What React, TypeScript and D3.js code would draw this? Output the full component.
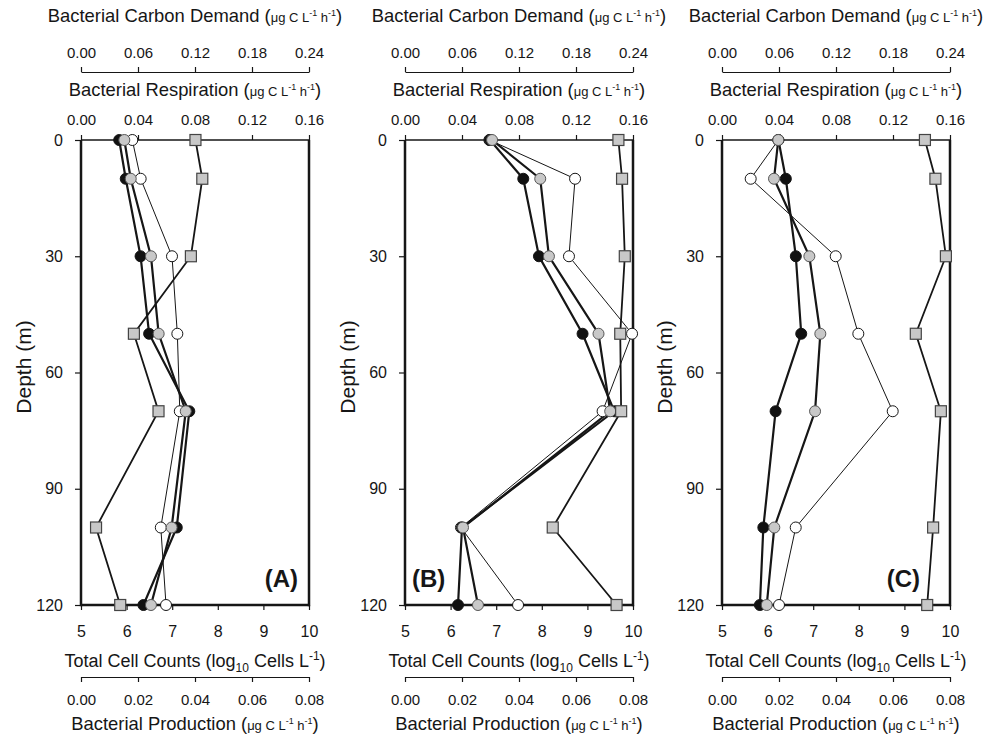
import React, { useEffect, useRef } from "react";
import * as d3 from "d3";

const depths = [0, 10, 30, 50, 70, 100, 120];
const depthTicks = [0, 30, 60, 90, 120];
const cellTicks = [5, 6, 7, 8, 9, 10];
const prodTicks = [0, 0.02, 0.04, 0.06, 0.08];
const respTicks = [0, 0.04, 0.08, 0.12, 0.16];
const bcdTicks = [0, 0.06, 0.12, 0.18, 0.24];

// panel A
const cellsA = [7.51, 7.66, 7.41, 6.16, 6.7, 5.33, 5.86];
const prodA = [0.0134, 0.0157, 0.0209, 0.0239, 0.038, 0.0336, 0.0219];
const respA = [0.0304, 0.0349, 0.0491, 0.0545, 0.0735, 0.0636, 0.0491];
const bcdA = [0.054, 0.0628, 0.0958, 0.1014, 0.104, 0.084, 0.0895];
// panel B
const cellsB = [9.68, 9.76, 9.82, 9.72, 9.74, 8.24, 9.64];
const prodB = [0.0298, 0.0415, 0.047, 0.0623, 0.0734, 0.02, 0.0186];
const respB = [0.0611, 0.0949, 0.101, 0.1358, 0.144, 0.0407, 0.0512];
const bcdB = [0.0888, 0.179, 0.1726, 0.239, 0.208, 0.0589, 0.119];
// panel C
const cellsC = [9.45, 9.68, 9.91, 9.25, 9.8, 9.63, 9.5];
const prodC = [0.0198, 0.0224, 0.0259, 0.0278, 0.0188, 0.0145, 0.0133];
const respC = [0.0395, 0.0365, 0.0613, 0.069, 0.0653, 0.0367, 0.0314];
const bcdC = [0.0593, 0.0302, 0.1197, 0.1435, 0.1797, 0.0776, 0.06];

const panels = [
  { name: "(A)", left: 81, cells: cellsA, prod: prodA, resp: respA, bcd: bcdA, labelX: 217, anchor: "end" },
  { name: "(B)", left: 405, cells: cellsB, prod: prodB, resp: respB, bcd: bcdB, labelX: 7, anchor: "start" },
  { name: "(C)", left: 722, cells: cellsC, prod: prodC, resp: respC, bcd: bcdC, labelX: 198, anchor: "end" },
];

const FONT = "'Liberation Sans', Arial, sans-serif";
const INK = "#161616";

function unitLabel(g: any, x: number, yb: number, name: string) {
  const t = g.append("text").attr("x", x).attr("y", yb).attr("text-anchor", "middle")
    .attr("font-size", 18.4).attr("fill", INK);
  t.append("tspan").text(name + " (");
  t.append("tspan").attr("font-size", 13).text("\u03bcg C L");
  t.append("tspan").attr("font-size", 9).attr("dy", -6).text("-1");
  t.append("tspan").attr("font-size", 13).attr("dy", 6).text(" h");
  t.append("tspan").attr("font-size", 9).attr("dy", -6).text("-1");
  t.append("tspan").attr("dy", 6).text(")");
}

export default function App() {
  const ref = useRef<SVGSVGElement>(null);
  useEffect(() => {
    const svg = d3.select(ref.current);
    svg.selectAll("*").remove();
    const W = 228;
    const top = 140;
    const bottom = 605;
    const y = d3.scaleLinear().domain([0, 120]).range([top, bottom]);

    panels.forEach((p) => {
      const g = svg.append("g").attr("transform", `translate(${p.left},0)`)
        .attr("font-family", FONT);
      const xCells = d3.scaleLinear().domain([5, 10]).range([0, W]);
      const xProd = d3.scaleLinear().domain([0, 0.08]).range([0, W]);
      const xResp = d3.scaleLinear().domain([0, 0.16]).range([0, W]);
      const xBcd = d3.scaleLinear().domain([0, 0.24]).range([0, W]);

      const styleAxis = (a: any, size: number) => {
        a.attr("font-family", FONT).attr("font-size", size).attr("color", INK);
        a.selectAll(".tick line").attr("stroke-width", 1.2);
      };

      // depth axis
      const la = g.append("g")
        .call(d3.axisLeft(y).tickValues(depthTicks).tickSize(6).tickPadding(12).tickFormat(d3.format("d")));
      la.select(".domain").remove();
      styleAxis(la, 16);

      // respiration (top frame)
      const ra = g.append("g").attr("transform", `translate(0,${top})`)
        .call(d3.axisTop(xResp).tickValues(respTicks).tickSize(5).tickPadding(10).tickFormat(d3.format(".2f")));
      ra.select(".domain").remove();
      styleAxis(ra, 15);

      // carbon demand (separate axis)
      const ba = g.append("g").attr("transform", "translate(0,72)")
        .call(d3.axisTop(xBcd).tickValues(bcdTicks).tickSize(5).tickSizeOuter(0).tickPadding(9).tickFormat(d3.format(".2f")));
      styleAxis(ba, 15);

      // cell counts (bottom frame)
      const ca = g.append("g").attr("transform", `translate(0,${bottom})`)
        .call(d3.axisBottom(xCells).tickValues(cellTicks).tickSize(5).tickPadding(15.5).tickFormat(d3.format("d")));
      ca.select(".domain").remove();
      styleAxis(ca, 16);

      // production (separate axis)
      const pa = g.append("g").attr("transform", "translate(0,677)")
        .call(d3.axisBottom(xProd).tickValues(prodTicks).tickSize(5).tickSizeOuter(0).tickPadding(12.3).tickFormat(d3.format(".2f")));
      styleAxis(pa, 15);

      // frame
      g.append("line").attr("x1", 0).attr("x2", W).attr("y1", top).attr("y2", top)
        .attr("stroke", INK).attr("stroke-width", 1.5);
      g.append("line").attr("x1", 0).attr("x2", W).attr("y1", bottom).attr("y2", bottom)
        .attr("stroke", INK).attr("stroke-width", 2.5);
      g.append("line").attr("x1", 0).attr("x2", 0).attr("y1", top).attr("y2", bottom + 1.2)
        .attr("stroke", INK).attr("stroke-width", 2.5);
      g.append("line").attr("x1", W).attr("x2", W).attr("y1", top).attr("y2", bottom + 1.2)
        .attr("stroke", INK).attr("stroke-width", 2.5);

      // titles
      const cx = W / 2;
      unitLabel(g, cx, 22, "Bacterial Carbon Demand");
      unitLabel(g, cx, 96, "Bacterial Respiration");
      unitLabel(g, cx, 730, "Bacterial Production");
      const tc = g.append("text").attr("x", cx).attr("y", 667).attr("text-anchor", "middle")
        .attr("font-size", 18).attr("fill", INK);
      tc.append("tspan").text("Total Cell Counts (log");
      tc.append("tspan").attr("font-size", 12).attr("dy", 5).text("10");
      tc.append("tspan").attr("dy", -5).text(" Cells L");
      tc.append("tspan").attr("font-size", 12).attr("dy", -7).text("-1");
      tc.append("tspan").attr("dy", 7).text(")");

      g.append("text").attr("transform", `translate(-50,367) rotate(-90)`)
        .attr("text-anchor", "middle").attr("font-size", 21).attr("fill", INK).text("Depth (m)");

      g.append("text").attr("x", p.labelX).attr("y", 587).attr("text-anchor", p.anchor)
        .attr("font-size", 24).attr("font-weight", "bold").attr("fill", INK).text(p.name);

      // series
      const series = [
        { vals: p.bcd, x: xBcd, fill: "#ffffff", lw: 1, shape: "circle" },
        { vals: p.prod, x: xProd, fill: "#111111", lw: 2.2, shape: "circle" },
        { vals: p.resp, x: xResp, fill: "#c8c8c8", lw: 2.2, shape: "circle" },
        { vals: p.cells, x: xCells, fill: "#c8c8c8", lw: 1.8, shape: "square" },
      ];
      series.forEach((s) => {
        const line = d3.line<number>().x((v) => s.x(v)).y((_, i) => y(depths[i]));
        g.append("path").attr("d", line(s.vals)).attr("fill", "none")
          .attr("stroke", INK).attr("stroke-width", s.lw);
      });
      series.forEach((s) => {
        if (s.shape === "circle") {
          g.selectAll(null).data(s.vals).enter().append("circle")
            .attr("cx", (v) => s.x(v)).attr("cy", (_, i) => y(depths[i])).attr("r", 5.5)
            .attr("fill", s.fill).attr("stroke", s.fill === "#c8c8c8" ? "#555" : INK).attr("stroke-width", 1);
        } else {
          g.selectAll(null).data(s.vals).enter().append("rect")
            .attr("x", (v) => s.x(v) - 5.5).attr("y", (_, i) => y(depths[i]) - 5.5)
            .attr("width", 11).attr("height", 11)
            .attr("fill", s.fill).attr("stroke", "#444").attr("stroke-width", 1.2);
        }
      });
    });
  }, []);

  return (
    <div>
      <svg ref={ref} width={1005} height={735}
        style={{ position: "absolute", left: 0, top: 0, background: "#fff" }}></svg>
    </div>
  );
}
